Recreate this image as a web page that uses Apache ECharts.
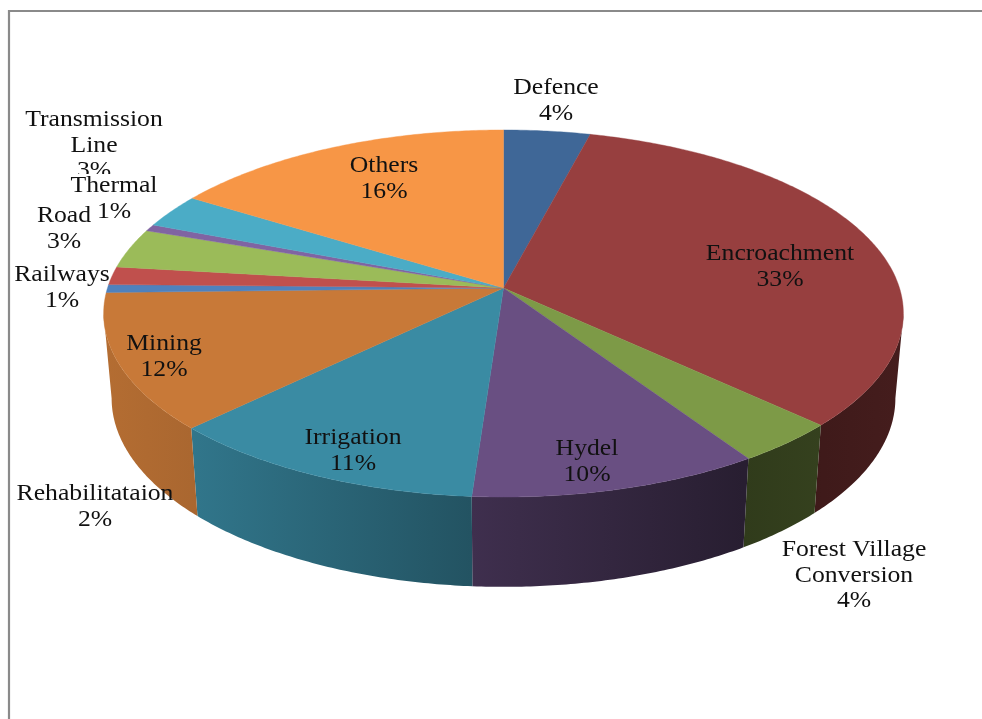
<!DOCTYPE html>
<html>
<head>
<meta charset="utf-8">
<style>html,body{margin:0;padding:0;background:#fff}#c{width:982px;height:719px}</style>
<script src="https://cdn.jsdelivr.net/npm/echarts@6/dist/echarts.min.js"></script>
</head>
<body>
<div id="c"></div>
<script>
const categories = ['Defence','Encroachment','Forest Village\nConversion','Hydel','Irrigation','Mining','Railways','Rehabilitataion','Road','Thermal','Transmission\nLine','Others'];
const values = [4.0,33.1,3.7,10.3,11.5,12.0,0.7,1.6,3.5,0.6,3.0,16.0];
const percentLabels = ['4%','33%','4%','10%','11%','12%','1%','2%','3%','1%','3%','16%'];
const colors = ['#3f6797','#973f3f','#7d9a47','#694f82','#3a8ba3','#c87938','#4f81bd','#c0504d','#9bbb59','#8064a2','#4bacc6','#f79646'];

// layout of the tilted disc (perspective projection of a circle)
const CX = 503.5, CY = 288, RX = 396, RY = 180, K = 0.139;
const BASE = {scaleX: 0.98, cy: 372, ry: 185};
const labelAnchors = [[556,88],[780,253.5],[854,549.5],[587,448.5],[353,437.5],[164,343.5],[62,274.5],[95,493.5],[64,215.5],[114,186],[94,119.5],[384,165.5]];
const LINE = 25.8;
const wallShade = [[0,.90],[.11,.85],[.46,.60],[.80,.38],[.90,.42],[1,.46]];

const total = values.reduce((a,b)=>a+b,0);
let run = 0;
const sliceData = values.map((v,i)=>{const s=run; run+=v; return {name:categories[i].replace('\n',' '), value:[v,s,i]};});

function topPoint(t){const u=Math.sin(t),v=-Math.cos(t),d=1-K*v;return [CX+RX*u/d, CY+RY*v/d];}
function basePoint(t){const u=Math.sin(t),v=-Math.cos(t),d=1-K*v;return [CX+BASE.scaleX*RX*u/d, BASE.cy+BASE.ry*v/d];}
function frac(x){return x/total*Math.PI*2;}
function arc(fn,a,b){const n=Math.max(2,Math.ceil(Math.abs(b-a)/0.01));const p=[];for(let i=0;i<=n;i++){p.push(fn(a+(b-a)*i/n));}return p;}
function shade(hex,f){const n=parseInt(hex.slice(1),16);const c=[n>>16,(n>>8)&255,n&255].map(x=>Math.round(x*f));return 'rgb('+c.join(',')+')';}

const wallMin = 98*Math.PI/180, wallMax = 262*Math.PI/180;

const chart = echarts.init(document.getElementById('c'),null,{renderer:'canvas'});
chart.setOption({
  animation:false,
  backgroundColor:'#ffffff',
  graphic:[{type:'polyline',silent:true,shape:{points:[[9,719],[9,11],[982,11]]},style:{stroke:'#8a8a8a',fill:null,lineWidth:2.2}}],
  series:[
    {type:'custom',coordinateSystem:'none',name:'walls',z:1,silent:true,data:sliceData,
     renderItem(p,api){
       const a=frac(api.value(1)),b=frac(api.value(1)+api.value(0));
       const s=Math.max(a,wallMin),e=Math.min(b,wallMax);
       if(e<=s) return {type:'group',children:[]};
       const col=colors[api.value(2)];
       const pts=arc(topPoint,s,e).concat(arc(basePoint,e,s));
       return {type:'polygon',shape:{points:pts},style:{
         fill:{type:'linear',x:CX-400,y:0,x2:CX+400,y2:0,global:true,colorStops:wallShade.map(w=>({offset:w[0],color:shade(col,w[1])}))},
         stroke:null}};
     }},
    {type:'custom',coordinateSystem:'none',name:'tops',z:2,silent:true,data:sliceData,
     renderItem(p,api){
       const a=frac(api.value(1)),b=frac(api.value(1)+api.value(0));
       const col=colors[api.value(2)];
       const pts=[[CX,CY]].concat(arc(topPoint,a,b));
       return {type:'polygon',shape:{points:pts},style:{fill:col,stroke:col,lineWidth:0.4}};
     }},
    {type:'custom',coordinateSystem:'none',name:'labels',z:3,silent:true,data:sliceData,
     renderItem(p,api){
       const i=api.value(2);
       const lines=categories[i].split('\n').concat(percentLabels[i]);
       const a=labelAnchors[i];
       return {type:'group',children:lines.map((t,j)=>{
         const mask=categories[i]==='Thermal'&&j===0;
         return {type:'text',z2:mask?5:1,scaleX:1.07,
           x:a[0],y:a[1]+j*LINE,
           style:{text:t,fill:'#111',font:'24px "Liberation Serif"',align:'center',verticalAlign:'middle',
             backgroundColor:mask?'#fff':'transparent',padding:[0,1,0,1]}};
       })};
     }}
  ]
});
</script>
</body>
</html>
